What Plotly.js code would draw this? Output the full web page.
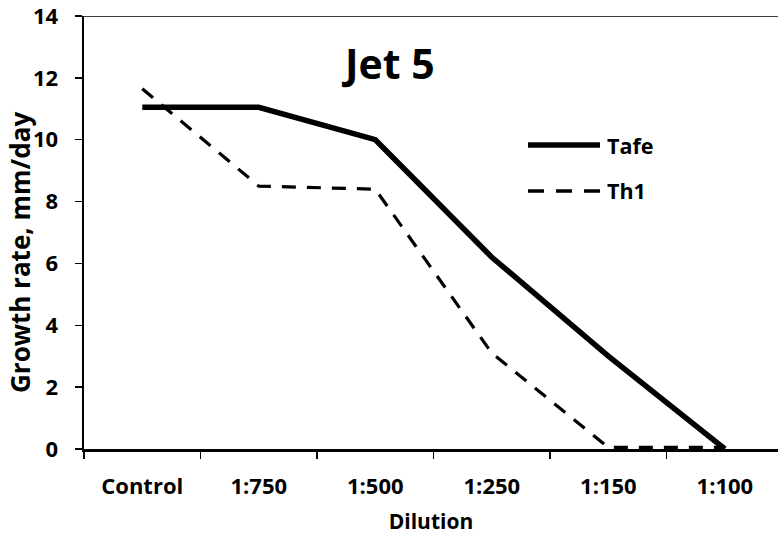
<!DOCTYPE html>
<html><head><meta charset="utf-8">
<script src="https://cdn.plot.ly/plotly-3.0.1.min.js"></script>
<style>html,body{margin:0;padding:0;background:#fff}#c{width:778px;height:535px}</style>
</head><body><div id="c"></div>
<script>
var categories = ["Control", "1:750", "1:500", "1:250", "1:150", "1:100"];
var tafe = [11.05, 11.05, 10.0, 6.2, 3.0, 0.0];
var th1 = [11.65, 8.5, 8.4, 3.1, 0.05, 0.05];
var yTicks = [0, 2, 4, 6, 8, 10, 12, 14];
var seriesNames = ["Tafe", "Th1"];

var F = "Open Sans, Lato, DejaVu Sans, sans-serif";
var traces = [
  {x: categories, y: tafe, name: seriesNames[0], type: "scatter", mode: "lines",
   line: {color: "#000", width: 5.5}},
  {x: categories, y: th1, name: seriesNames[1], type: "scatter", mode: "lines",
   line: {color: "#000", width: 3.2, dash: "14px,11px"}}
];
function px2x(p) { return (p - 84) / 694; }
function px2y(p) { return (449 - p) / 433; }
var layout = {
  width: 778, height: 535,
  margin: {l: 84, r: 0, t: 16, b: 86},
  paper_bgcolor: "#fff", plot_bgcolor: "#fff",
  font: {family: F, color: "#000", size: 21},
  showlegend: false,
  xaxis: {type: "category", range: [-0.5, 5.456], tickson: "boundaries",
          ticks: "outside", ticklen: 7, tickcolor: "#000", tickwidth: 1.5,
          showline: true, linecolor: "#000", linewidth: 2.5, showgrid: false,
          zeroline: false, ticklabelstandoff: 16, tickfont: {family: F, size: 22, weight: "bold"},
          title: {text: "Dilution", font: {family: F, size: 21, weight: "bold"}, standoff: 16}},
  yaxis: {range: [0, 14.0001], tickvals: yTicks, ticktext: yTicks.map(String),
          ticks: "outside", ticklen: 7, tickcolor: "#000", tickwidth: 1.5,
          showline: true, linecolor: "#000", linewidth: 2.5, showgrid: false,
          zeroline: false, ticklabelstandoff: 12, ticklabeloverflow: "allow",
          tickfont: {family: F, size: 22, weight: "bold"}},
  shapes: [
    {type: "line", xref: "paper", yref: "y", x0: -0.012, x1: 1, y0: 14, y1: 14,
     line: {color: "#000", width: 1.5}},
    {type: "line", xref: "paper", yref: "paper", x0: px2x(528), x1: px2x(600), y0: px2y(145), y1: px2y(145),
     line: {color: "#000", width: 5.5}},
    {type: "line", xref: "paper", yref: "paper", x0: px2x(528), x1: px2x(600), y0: px2y(191), y1: px2y(191),
     line: {color: "#000", width: 3.5, dash: "16px,12px"}}
  ],
  annotations: [
    {text: "Jet 5", xref: "paper", yref: "paper", x: px2x(388), y: px2y(63),
     xanchor: "center", yanchor: "middle", showarrow: false,
     font: {family: F, size: 41, weight: "bold"}},
    {text: "Growth rate, mm/day", xref: "paper", yref: "paper", x: px2x(20), y: px2y(253),
     xanchor: "center", yanchor: "middle", showarrow: false, textangle: -90,
     font: {family: F, size: 26, weight: "bold"}},
    {text: seriesNames[0], xref: "paper", yref: "paper", x: px2x(605), y: px2y(145),
     xanchor: "left", yanchor: "middle", showarrow: false,
     font: {family: F, size: 21.5, weight: "bold"}},
    {text: seriesNames[1], xref: "paper", yref: "paper", x: px2x(605), y: px2y(191),
     xanchor: "left", yanchor: "middle", showarrow: false,
     font: {family: F, size: 21.5, weight: "bold"}}
  ]
};
Plotly.newPlot("c", traces, layout, {displayModeBar: false, staticPlot: true});
</script></body></html>
